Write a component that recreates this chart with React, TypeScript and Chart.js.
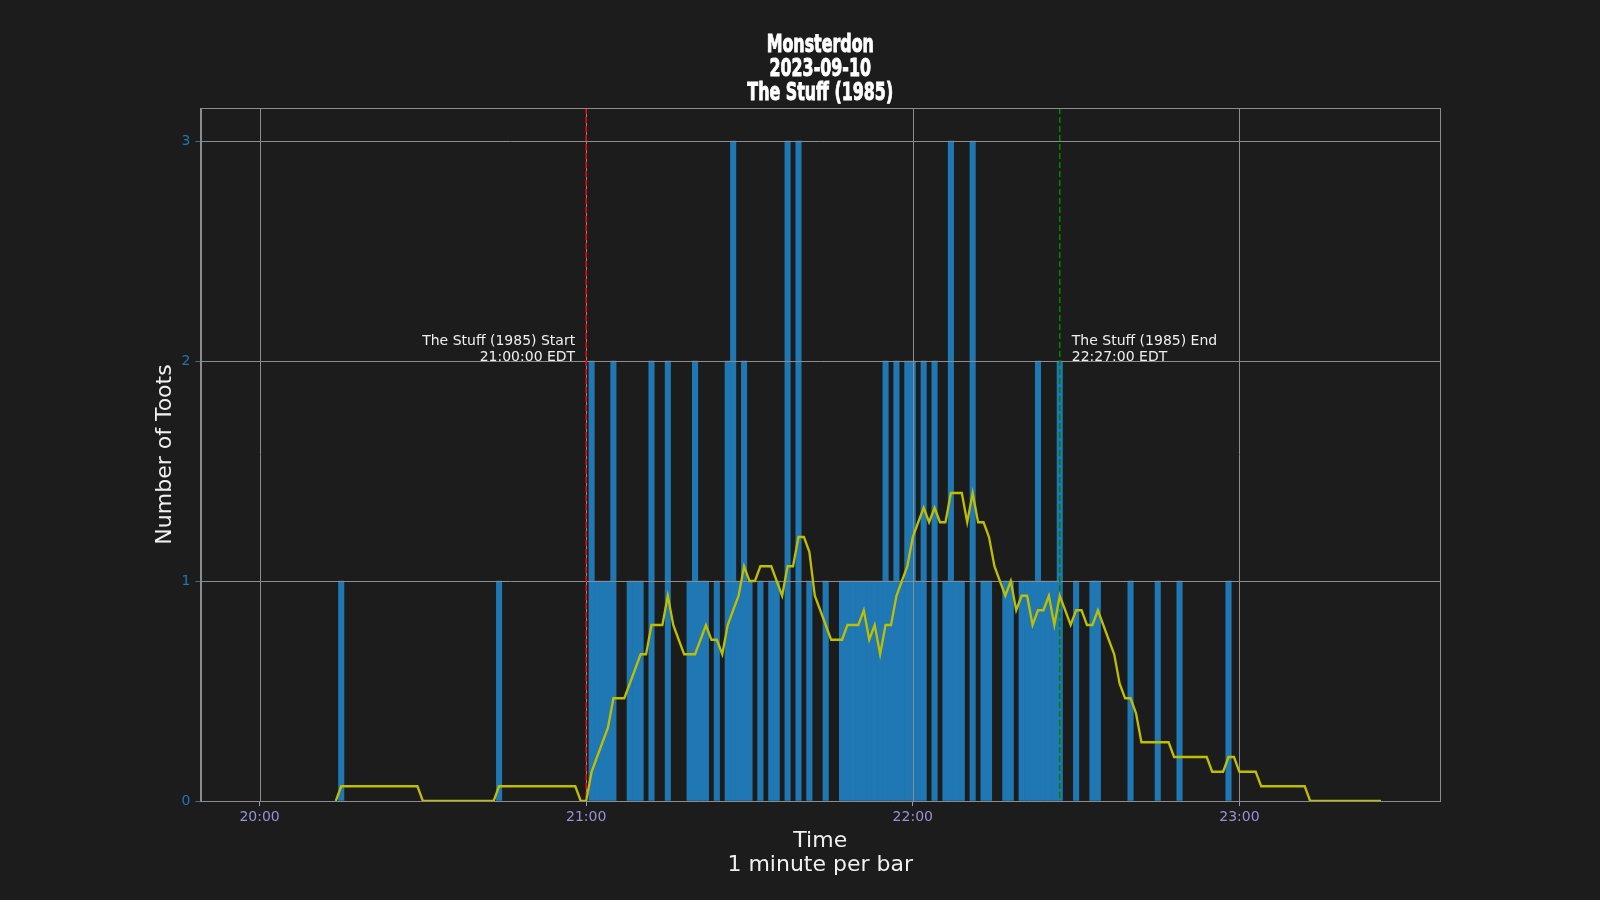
import React, { useEffect, useRef } from "react";
import { Chart, registerables } from "chart.js";

Chart.register(...registerables);

// ---------------- data ----------------
const titleLines = ["Monsterdon", "2023-09-10", "The Stuff (1985)"];
const xAxisTitleLines = ["Time", "1 minute per bar"];
const yAxisTitle = "Number of Toots";

const seriesStart = "20:00"; // first minute of the series
const seriesEnd = "23:26"; // last minute of the series

const xTickLabels = ["20:00", "21:00", "22:00", "23:00"];
const yTickValues = [0, 1, 2, 3];
const yTickLabels = ["0", "1", "2", "3"];

// minutes with at least one toot (all other minutes are 0)
const barTimes = [
  "20:15", "20:44",
  "21:01", "21:02", "21:03", "21:04", "21:05", "21:08", "21:09", "21:10", "21:12", "21:15",
  "21:19", "21:20", "21:21", "21:22", "21:24", "21:26", "21:27", "21:28", "21:29", "21:30",
  "21:32", "21:34", "21:35", "21:37", "21:39", "21:41", "21:44", "21:47", "21:48", "21:49",
  "21:50", "21:51", "21:52", "21:53", "21:54", "21:55", "21:56", "21:57", "21:58", "21:59",
  "22:00", "22:01", "22:02", "22:04", "22:06", "22:07", "22:08", "22:09", "22:11", "22:13",
  "22:14", "22:17", "22:18", "22:20", "22:21", "22:22", "22:23", "22:24", "22:25", "22:26",
  "22:27", "22:30", "22:33", "22:34", "22:40", "22:45", "22:49", "22:58",
];
const barCounts = [
  1, 1,
  2, 1, 1, 1, 2, 1, 1, 1, 2, 2,
  1, 2, 1, 1, 1, 2, 3, 1, 2, 1,
  1, 1, 1, 3, 3, 1, 1, 1, 1, 1,
  1, 1, 1, 1, 1, 2, 1, 2, 1, 2,
  2, 1, 2, 2, 1, 3, 1, 1, 3, 1,
  1, 1, 1, 1, 1, 1, 2, 1, 1, 1,
  2, 1, 1, 1, 1, 1, 1, 1,
];

// 15-minute rolling mean, one value per minute starting at rollingStart
const rollingStart = "20:14";
const rollingMean = [
  0, 0.067, 0.067, 0.067, 0.067, 0.067, 0.067, 0.067, 0.067, 0.067,
  0.067, 0.067, 0.067, 0.067, 0.067, 0.067, 0, 0, 0, 0,
  0, 0, 0, 0, 0, 0, 0, 0, 0, 0,
  0.067, 0.067, 0.067, 0.067, 0.067, 0.067, 0.067, 0.067, 0.067, 0.067,
  0.067, 0.067, 0.067, 0.067, 0.067, 0, 0, 0.133, 0.2, 0.267,
  0.333, 0.467, 0.467, 0.467, 0.533, 0.6, 0.667, 0.667, 0.8, 0.8,
  0.8, 0.933, 0.8, 0.733, 0.667, 0.667, 0.667, 0.733, 0.8, 0.733,
  0.733, 0.667, 0.8, 0.867, 0.933, 1.067, 1.0, 1.0, 1.067, 1.067,
  1.067, 1.0, 0.933, 1.067, 1.067, 1.2, 1.2, 1.133, 0.933, 0.867,
  0.8, 0.733, 0.733, 0.733, 0.8, 0.8, 0.8, 0.867, 0.733, 0.8,
  0.667, 0.8, 0.8, 0.933, 1.0, 1.067, 1.2, 1.267, 1.333, 1.267,
  1.333, 1.267, 1.267, 1.4, 1.4, 1.4, 1.267, 1.4, 1.267, 1.267,
  1.2, 1.067, 1.0, 0.933, 1.0, 0.867, 0.933, 0.933, 0.8, 0.867,
  0.867, 0.933, 0.8, 0.933, 0.867, 0.8, 0.867, 0.867, 0.8, 0.8,
  0.867, 0.8, 0.733, 0.667, 0.533, 0.467, 0.467, 0.4, 0.267, 0.267,
  0.267, 0.267, 0.267, 0.267, 0.2, 0.2, 0.2, 0.2, 0.2, 0.2,
  0.2, 0.133, 0.133, 0.133, 0.2, 0.2, 0.133, 0.133, 0.133, 0.133,
  0.067, 0.067, 0.067, 0.067, 0.067, 0.067, 0.067, 0.067, 0.067, 0,
  0, 0, 0, 0, 0, 0, 0, 0, 0, 0,
  0, 0, 0,
];

const markerTimes = ["21:00", "22:27"];
const markerColors = ["#ff0000", "#008000"];
const markerLabels = [
  ["The Stuff (1985) Start", "21:00:00 EDT"],
  ["The Stuff (1985) End", "22:27:00 EDT"],
];

// ---------------- helpers ----------------
const toMin = (t: string) => {
  const [h, m] = t.split(":").map(Number);
  const [h0, m0] = seriesStart.split(":").map(Number);
  return h * 60 + m - (h0 * 60 + m0);
};

const xTickValues = xTickLabels.map(toMin);
const spanMin = toMin(seriesEnd) + 1;
const X_MIN = -0.5 - 0.05 * spanMin;
const X_MAX = toMin(seriesEnd) + 0.5 + 0.05 * spanMin;
const Y_MAX = 3 * 1.05;

const BG = "#1c1c1c";
const GRID = "#8c8c8c";
const TEXT = "#f0f0f0";
const BAR = "#1f77b4";
const XTICK = "#9494d8";
const SANS = "'DejaVu Sans', sans-serif";
const TITLE_FONT = "bold 23px 'DejaVu Sans', sans-serif";

const overlay = {
  id: "overlay",
  afterDatasetDraw(chart: any, args: any) {
    if (args.index !== 0) return;
    const { ctx, chartArea: ca, scales } = chart;
    const x = scales.x;
    const y = scales.y;
    ctx.save();
    ctx.strokeStyle = GRID;
    ctx.lineWidth = 1;
    ctx.beginPath();
    for (const v of xTickValues) {
      const px = Math.round(x.getPixelForValue(v)) + 0.5;
      ctx.moveTo(px, ca.top);
      ctx.lineTo(px, ca.bottom);
    }
    for (const v of yTickValues) {
      const py = Math.round(y.getPixelForValue(v)) + 0.5;
      ctx.moveTo(ca.left, py);
      ctx.lineTo(ca.right, py);
    }
    ctx.stroke();
    // event markers
    ctx.lineWidth = 1.6;
    ctx.setLineDash([6, 3]);
    markerTimes.forEach((t, i) => {
      const px = x.getPixelForValue(toMin(t));
      ctx.strokeStyle = markerColors[i];
      ctx.beginPath();
      ctx.moveTo(px, ca.top);
      ctx.lineTo(px, ca.bottom);
      ctx.stroke();
    });
    ctx.restore();
  },
  afterDraw(chart: any) {
    const { ctx, chartArea: ca, scales } = chart;
    const x = scales.x;
    const y = scales.y;
    ctx.save();
    // frame
    ctx.strokeStyle = GRID;
    ctx.lineWidth = 1;
    ctx.strokeRect(
      Math.round(ca.left) + 0.5,
      Math.round(ca.top) + 0.5,
      Math.round(ca.right) - Math.round(ca.left),
      Math.round(ca.bottom) - Math.round(ca.top)
    );
    // title (condensed heavy look)
    ctx.fillStyle = "#ffffff";
    ctx.strokeStyle = "#ffffff";
    ctx.lineWidth = 0.9;
    ctx.font = TITLE_FONT;
    ctx.textAlign = "center";
    ctx.textBaseline = "middle";
    const cx = (ca.left + ca.right) / 2;
    titleLines.forEach((l, i) => {
      ctx.save();
      ctx.translate(cx, 46 + i * 24);
      ctx.scale(0.69, 1.04);
      ctx.fillText(l, 0, 0);
      ctx.strokeText(l, 0, 0);
      ctx.restore();
    });
    // x axis title
    ctx.fillStyle = TEXT;
    ctx.font = `22px ${SANS}`;
    xAxisTitleLines.forEach((l, i) => ctx.fillText(l, cx, ca.bottom + 40 + i * 24));
    // y axis title
    ctx.save();
    ctx.translate(ca.left - 35, (ca.top + ca.bottom) / 2);
    ctx.rotate(-Math.PI / 2);
    ctx.fillText(yAxisTitle, 0, 0);
    ctx.restore();
    // marker annotations
    ctx.font = `14px ${SANS}`;
    ctx.textBaseline = "alphabetic";
    const yb = y.getPixelForValue(2) - 0.5;
    markerTimes.forEach((t, i) => {
      const px = x.getPixelForValue(toMin(t));
      const right = i === 0;
      ctx.textAlign = right ? "right" : "left";
      const tx = right ? px - 11 : px + 12;
      ctx.fillText(markerLabels[i][0], tx, yb - 16);
      ctx.fillText(markerLabels[i][1], tx, yb);
    });
    ctx.restore();
  },
};

export default function App() {
  const ref = useRef<HTMLCanvasElement | null>(null);
  useEffect(() => {
    if (!ref.current) return;
    const chart = new Chart(ref.current, {
      type: "bar",
      data: {
        datasets: [
          {
            type: "bar",
            label: "Toots per minute",
            data: barTimes.map((t, i) => ({ x: toMin(t), y: barCounts[i] })),
            backgroundColor: BAR,
            borderWidth: 0,
            barPercentage: 1,
            categoryPercentage: 1,
            order: 2,
          } as any,
          {
            type: "line",
            label: "15-minute rolling mean",
            data: rollingMean.map((v, i) => ({ x: toMin(rollingStart) + i, y: v })),
            borderColor: "#bfbf00",
            borderWidth: 2.3,
            pointRadius: 0,
            tension: 0,
            fill: false,
            order: 1,
          } as any,
        ],
      },
      options: {
        animation: false,
        responsive: false,
        maintainAspectRatio: false,
        devicePixelRatio: 1,
        layout: { padding: { left: 140.5, right: 160, top: 108, bottom: 0 } },
        plugins: { legend: { display: false }, tooltip: { enabled: false }, title: { display: false } },
        scales: {
          x: {
            type: "linear",
            min: X_MIN,
            max: X_MAX,
            offset: false,
            grid: { drawOnChartArea: false, offset: false, color: GRID, tickColor: XTICK, tickLength: 5, lineWidth: 1 },
            border: { display: true, color: GRID },
            ticks: {
              color: XTICK,
              font: { family: "DejaVu Sans", size: 14 },
              padding: 3,
              maxRotation: 0,
              autoSkip: false,
              callback: (v: any) => {
                const idx = xTickValues.indexOf(Number(v));
                return idx >= 0 ? xTickLabels[idx] : "";
              },
            },
            afterBuildTicks: (s: any) => {
              s.ticks = xTickValues.map((v) => ({ value: v }));
            },
            afterFit: (s: any) => {
              s.height = 99;
            },
          },
          y: {
            type: "linear",
            min: 0,
            max: Y_MAX,
            grid: { drawOnChartArea: false, color: GRID, tickColor: BAR, tickLength: 5 },
            border: { display: true, color: GRID },
            ticks: {
              color: BAR,
              font: { family: "DejaVu Sans", size: 14 },
              padding: 5,
              callback: (v: any) => {
                const idx = yTickValues.indexOf(Number(v));
                return idx >= 0 ? yTickLabels[idx] : "";
              },
            },
            afterBuildTicks: (s: any) => {
              s.ticks = yTickValues.map((v) => ({ value: v }));
            },
            afterFit: (s: any) => {
              s.width = 60;
            },
          },
        },
      },
      plugins: [overlay],
    } as any);
    return () => chart.destroy();
  }, []);

  return (
    <div
      style={{
        position: "fixed",
        left: 0,
        top: 0,
        width: 1600,
        height: 900,
        background: BG,
      }}
    >
      <canvas ref={ref} width={1600} height={900} style={{ width: 1600, height: 900, display: "block" }} />
    </div>
  );
}
